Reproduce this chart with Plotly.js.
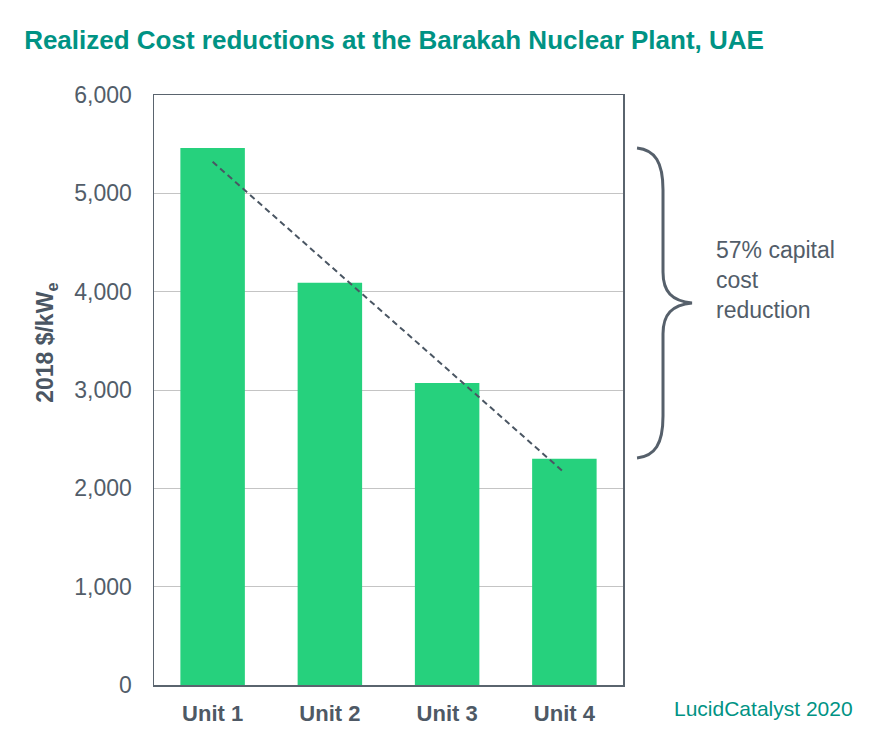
<!DOCTYPE html>
<html>
<head>
<meta charset="utf-8">
<script src="https://cdn.plot.ly/plotly-3.0.1.min.js"></script>
<style>
  html, body { margin: 0; padding: 0; background: #fff; }
  #chart { width: 894px; height: 748px; }
</style>
</head>
<body>
<div id="chart"></div>
<script>
// values
var units = ["Unit 1", "Unit 2", "Unit 3", "Unit 4"];
var costs = [5460, 4090, 3070, 2300];
var trendUnits = ["Unit 1", "Unit 4"];
var trendCosts = [5320, 2160];
var yTicks = [0, 1000, 2000, 3000, 4000, 5000, 6000];
var yTickText = ["0", "1,000", "2,000", "3,000", "4,000", "5,000", "6,000"];
var unitLabels = ["<b>Unit 1</b>", "<b>Unit 2</b>", "<b>Unit 3</b>", "<b>Unit 4</b>"];

var grey = "#525d69";
var teal = "#009384";

var bars = {
  x: units,
  y: costs,
  type: "bar",
  marker: {color: "#26d17d"},
  hoverinfo: "x+y"
};

var trend = {
  x: trendUnits,
  y: trendCosts,
  type: "scatter",
  mode: "lines",
  line: {color: "#4a5663", width: 2, dash: "6px,4px"},
  hoverinfo: "skip"
};

// curly brace to the right of the plot, in page pixels
function bracePath(){
  return "M 637 148 C 655 150, 663 162, 663 190 L 663 272 C 663 292, 672 301, 692 303 " +
         "C 672 305, 663 314, 663 334 L 663 416 C 663 444, 655 456, 637 458";
}

var layout = {
  width: 894,
  height: 748,
  margin: {l: 154, r: 271, t: 95, b: 63},
  paper_bgcolor: "#fff",
  plot_bgcolor: "#fff",
  showlegend: false,
  bargap: 0.45,
  font: {family: "Liberation Sans, Arial, sans-serif", color: grey},
  title: {
    text: "<b>Realized Cost reductions at the Barakah Nuclear Plant, UAE</b>",
    font: {size: 26, color: teal},
    x: 0.027, xanchor: "left", xref: "container",
    y: 0.947, yanchor: "middle", yref: "container"
  },
  xaxis: {
    type: "category",
    tickvals: units,
    ticktext: unitLabels,
    tickfont: {size: 22, color: "#4e5965"},
    ticklabelstandoff: 8,
    ticks: "",
    showline: true, linecolor: "#5a646e", linewidth: 1.5, mirror: true,
    showgrid: false, fixedrange: true
  },
  yaxis: {
    range: [0, 6000],
    tickvals: yTicks,
    ticktext: yTickText,
    tickfont: {size: 23, color: grey},
    ticks: "",
    ticklabelstandoff: 16,
    showline: true, linecolor: "#5a646e", linewidth: 1.5, mirror: true,
    gridcolor: "#c4c4c4", gridwidth: 1,
    zeroline: false, fixedrange: true
  },
  shapes: [{
    type: "path",
    xref: "paper", yref: "paper",
    path: "",
    line: {color: "#56606b", width: 3}
  }],
  annotations: [
    {
      text: "<b>2018 $/kW<sub>e</sub></b>",
      textangle: -90,
      xref: "paper", x: -0.228, xanchor: "center",
      yref: "y", y: 3480, yanchor: "middle",
      showarrow: false,
      font: {size: 23, color: "#4a5663"}
    },
    {
      text: "57% capital<br>cost<br>reduction",
      xref: "paper", x: 1.193, xanchor: "left",
      yref: "y", y: 4120, yanchor: "middle",
      align: "left",
      showarrow: false,
      font: {size: 23, color: grey}
    },
    {
      text: "LucidCatalyst 2020",
      xref: "paper", x: 1.104, xanchor: "left",
      yref: "paper", y: -0.039, yanchor: "middle",
      showarrow: false,
      font: {size: 21, color: teal}
    }
  ]
};

// convert the pixel brace into paper coordinates
(function(){
  var l = layout.margin.l, t = layout.margin.t;
  var w = layout.width - l - layout.margin.r;
  var h = layout.height - t - layout.margin.b;
  var parts = bracePath().split(/([MCL,])/);
  var out = [];
  parts.forEach(function(p){
    var s = p.trim();
    if (s === "") return;
    if (/^[MCL,]$/.test(s)) { out.push(s); return; }
    var nums = s.split(/\s+/).map(Number);
    var px = (nums[0] - l) / w;
    var py = 1 - (nums[1] - t) / h;
    out.push(px.toFixed(4) + " " + py.toFixed(4));
  });
  layout.shapes[0].path = out.join(" ").replace(/ ,/g, ",");
})();

Plotly.newPlot("chart", [bars, trend], layout, {displayModeBar: false, staticPlot: true});
</script>
</body>
</html>
